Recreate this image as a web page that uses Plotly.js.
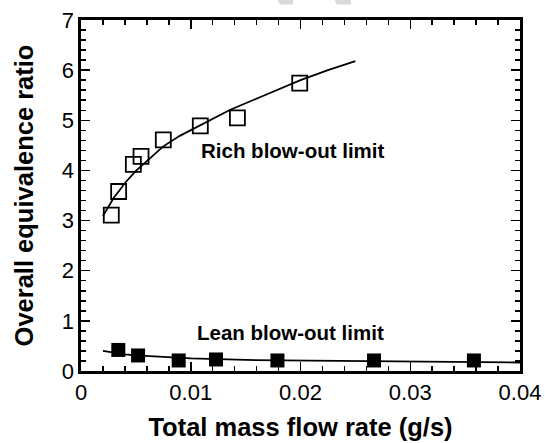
<!DOCTYPE html>
<html>
<head>
<meta charset="utf-8">
<script src="https://cdn.plot.ly/plotly-3.0.1.min.js"></script>
<style>html,body{margin:0;padding:0;background:#fff;}#chart{width:545px;height:443px;}</style>
</head>
<body>
<div id="chart"></div>
<script>
// Rich blow-out limit (open squares)
var richX = [0.00276, 0.00343, 0.00477, 0.00547, 0.0075, 0.01087, 0.01425, 0.01993];
var richY = [3.11, 3.58, 4.12, 4.28, 4.61, 4.89, 5.05, 5.74];
// Rich fit curve
var richFitX = [0.002, 0.0025, 0.003, 0.0035, 0.004, 0.005, 0.006, 0.0075, 0.009, 0.0115, 0.0136, 0.0163, 0.018, 0.02, 0.0225, 0.025];
var richFitY = [3.09, 3.29, 3.46, 3.60, 3.75, 3.99, 4.19, 4.48, 4.69, 4.97, 5.21, 5.46, 5.61, 5.80, 6.00, 6.18];
// Lean blow-out limit (filled squares)
var leanX = [0.0034, 0.0052, 0.0089, 0.0123, 0.0179, 0.0267, 0.0358];
var leanY = [0.42, 0.31, 0.21, 0.23, 0.21, 0.21, 0.21];
// Lean fit curve
var leanFitX = [0.002, 0.003, 0.004, 0.005, 0.007, 0.01, 0.015, 0.02, 0.025, 0.03, 0.035, 0.04];
var leanFitY = [0.40, 0.36, 0.33, 0.31, 0.28, 0.25, 0.22, 0.21, 0.20, 0.19, 0.18, 0.17];
// Axis ticks
var xTicks = [0, 0.01, 0.02, 0.03, 0.04];
var xTickLabels = ['0', '0.01', '0.02', '0.03', '0.04'];
var yTicks = [0, 1, 2, 3, 4, 5, 6, 7];
var yTickLabels = ['0', '1', '2', '3', '4', '5', '6', '7'];
var labels = {x: 'Total mass flow rate (g/s)', y: 'Overall equivalence ratio', rich: 'Rich blow-out limit', lean: 'Lean blow-out limit'};

var FONT = 'Liberation Sans, Arial, Helvetica, sans-serif';

var traces = [
  {x: richFitX, y: richFitY, mode: 'lines', line: {color: '#000', width: 1.8}, hoverinfo: 'skip'},
  {x: leanFitX, y: leanFitY, mode: 'lines', line: {color: '#000', width: 1.8}, hoverinfo: 'skip'},
  {x: richX, y: richY, mode: 'markers', marker: {symbol: 'square-open', size: 15, color: '#000', line: {width: 1.8, color: '#000'}}},
  {x: leanX, y: leanY, mode: 'markers', marker: {symbol: 'square', size: 14, color: '#000', line: {width: 0}}}
];

var axisCommon = {
  showgrid: false, zeroline: false, showline: true, linecolor: '#000', linewidth: 2.7,
  mirror: 'allticks', ticks: 'inside', ticklen: 9, tickwidth: 1.5, tickcolor: '#000',
  tickfont: {family: FONT, size: 22, color: '#000'}
};

var layout = {
  width: 545, height: 443,
  margin: {l: 81, r: 25, t: 20, b: 72, pad: 0},
  paper_bgcolor: '#fff', plot_bgcolor: '#fff',
  showlegend: false,
  xaxis: Object.assign({}, axisCommon, {
    range: [0, 0.04], tickmode: 'array', tickvals: xTicks, ticktext: xTickLabels,
    minor: {dtick: 0.002, ticks: 'inside', ticklen: 5, tickwidth: 1.5, tickcolor: '#000'},
    title: {text: labels.x, font: {family: FONT, size: 25.5, color: '#000', weight: 'bold'}, standoff: 14}
  }),
  yaxis: Object.assign({}, axisCommon, {
    range: [0, 7], tickmode: 'array', tickvals: yTicks, ticktext: yTickLabels,
    minor: {dtick: 0.2, ticks: 'inside', ticklen: 5, tickwidth: 1.5, tickcolor: '#000'},
    title: {text: labels.y, font: {family: FONT, size: 25.5, color: '#000', weight: 'bold'}, standoff: 21}
  }),
  annotations: [
    {x: 0.0193, y: 4.4, xref: 'x', yref: 'y', text: labels.rich, showarrow: false,
     font: {family: FONT, size: 20.5, color: '#000', weight: 'bold'}},
    {x: 0.0191, y: 0.76, xref: 'x', yref: 'y', text: labels.lean, showarrow: false,
     font: {family: FONT, size: 20.5, color: '#000', weight: 'bold'}}
  ],
  shapes: [
    {type: 'path', xref: 'paper', yref: 'paper', layer: 'below', fillcolor: '#d9d9d9', line: {width: 0},
     path: 'M0.4465,1.06 L0.483,1.06 L0.483,1.044 L0.453,1.044 Z'},
    {type: 'path', xref: 'paper', yref: 'paper', layer: 'below', fillcolor: '#d9d9d9', line: {width: 0},
     path: 'M0.576,1.06 L0.615,1.06 L0.615,1.044 L0.583,1.044 Z'}
  ]
};

Plotly.newPlot('chart', traces, layout, {staticPlot: true, displayModeBar: false});
</script>
</body>
</html>
